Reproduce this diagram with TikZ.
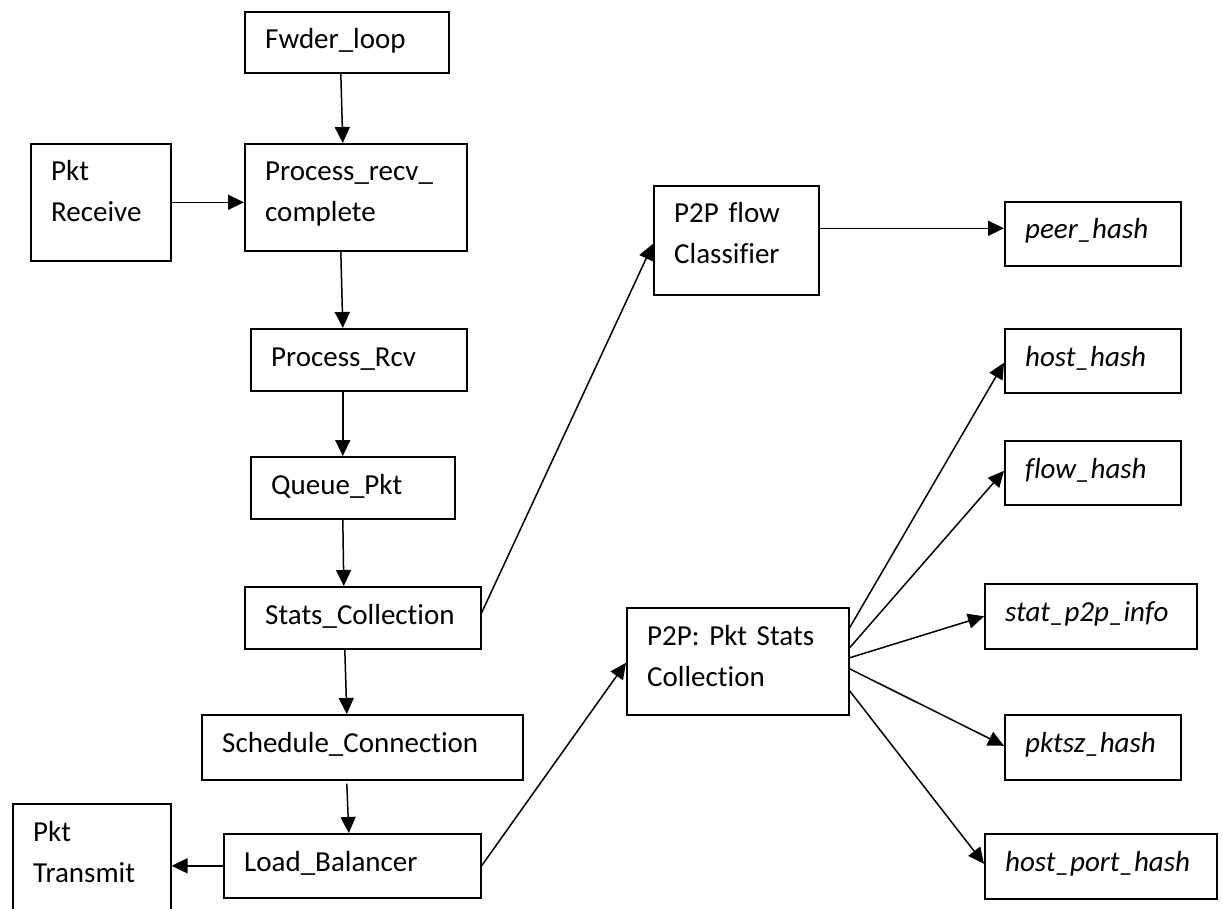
\documentclass[tikz,border=0pt]{standalone}
\usepackage{fontspec}
\setmainfont{Carlito}[Ligatures=CommonOff]
\usetikzlibrary{arrows.meta,calc}
\begin{document}
\begin{tikzpicture}[x=1pt,y=-1pt,
  bx/.style={draw, line width=1.6pt, rectangle, anchor=north west, inner sep=0pt},
  tx/.style={anchor=base west, xshift=21pt, yshift=-38pt, inner sep=0pt, align=left, text width=260pt, font=\fontsize{29}{41}\selectfont},
  it/.style={tx, font=\fontsize{29}{41}\selectfont\itshape},
  arr/.style={line width=1.5pt, -{Triangle[length=16pt,width=15pt]}}]
\useasboundingbox (0,0) rectangle (1223,909);
\clip (0,0) rectangle (1223,909);
\fill[white] (0,0) rectangle (1223,909);

% left column
\node[bx, minimum width=204pt, minimum height=61pt, label={[tx]north west:Fwder\_loop}] (fw) at (244,11) {};
\node[bx, minimum width=140pt, minimum height=117pt, label={[tx]north west:Pkt\\Receive}] (prx) at (30,143) {};
\node[bx, minimum width=222pt, minimum height=107pt, label={[tx]north west:Process\_recv\_\\complete}] (pr) at (244,143) {};
\node[bx, minimum width=216pt, minimum height=62pt, label={[tx]north west:Process\_Rcv}] (rcv) at (250,328) {};
\node[bx, minimum width=204pt, minimum height=62pt, label={[tx]north west:Queue\_Pkt}] (q) at (250,456) {};
\node[bx, minimum width=236pt, minimum height=62pt, label={[tx]north west:Stats\_Collection}] (st) at (244,586) {};
\node[bx, minimum width=321pt, minimum height=65pt, label={[tx]north west:Schedule\_Connection}] (sc) at (201,714) {};
\node[bx, minimum width=257pt, minimum height=64pt, label={[tx]north west:Load\_Balancer}] (lb) at (223,833) {};
\node[bx, minimum width=158pt, minimum height=130pt, label={[tx]north west:Pkt\\Transmit}] (ptx) at (12,803) {};

% middle
\node[bx, minimum width=165pt, minimum height=109pt, label={[tx]north west:P2P flow\\Classifier}] (cl) at (653,185) {};
\node[bx, minimum width=222pt, minimum height=107pt, label={[tx]north west:P2P: Pkt Stats\\Collection}] (ps) at (626,607) {};

% right column
\node[bx, minimum width=176pt, minimum height=64pt, label={[it]north west:peer\_hash}] (ph) at (1004,201) {};
\node[bx, minimum width=176pt, minimum height=64pt, label={[it]north west:host\_hash}] (hh) at (1004,328) {};
\node[bx, minimum width=176pt, minimum height=64pt, label={[it]north west:flow\_hash}] (fh) at (1004,440) {};
\node[bx, minimum width=212pt, minimum height=65pt, label={[it]north west:stat\_p2p\_info}] (sp) at (984,583) {};
\node[bx, minimum width=176pt, minimum height=65pt, label={[it]north west:pktsz\_hash}] (pz) at (1004,714) {};
\node[bx, minimum width=232pt, minimum height=65pt, label={[it]north west:host\_port\_hash}] (hp) at (984,833) {};

% vertical chain
\draw[arr] ([xshift=-6pt]fw.south) -- ([xshift=-13pt]pr.north);
\draw[arr] (prx.east) -- (prx.east -| pr.west);
\draw[arr] ([xshift=-15pt]pr.south) -- ([xshift=-16pt]rcv.north);
\draw[arr] ([xshift=-16pt]rcv.south) -- ([xshift=-10pt]q.north);
\draw[arr] ([xshift=-10pt]q.south) -- ([xshift=-19pt]st.north);
\draw[arr] ([xshift=-18pt]st.south) -- ([xshift=-15.5pt]sc.north);
\draw[arr] ([xshift=-15.5pt,yshift=-3pt]sc.south) -- ([xshift=-3.5pt]lb.north);
\draw[arr] (lb.west) -- (lb.west -| ptx.east);

% branches
\draw[arr] ([yshift=5pt]st.east) -- ([yshift=-3.5pt]cl.west);
\draw[arr] (lb.east) -- ([yshift=-1.5pt]ps.west);
\draw[arr] ([yshift=12pt]cl.east) -- ([yshift=12pt]cl.east -| ph.west);
\draw[arr] ([yshift=33.5pt]ps.east) -- ([yshift=-2pt]hh.west);
\draw[arr] ([yshift=13.5pt]ps.east) -- ([yshift=2pt]fh.west);
\draw[arr] ([yshift=3.5pt]ps.east) -- (sp.west);
\draw[arr] ([yshift=-7.5pt]ps.east) -- ([yshift=1.5pt]pz.west);
\draw[arr] ([yshift=-29.5pt]ps.east) -- ([yshift=2.5pt]hp.west);
\end{tikzpicture}
\end{document}
